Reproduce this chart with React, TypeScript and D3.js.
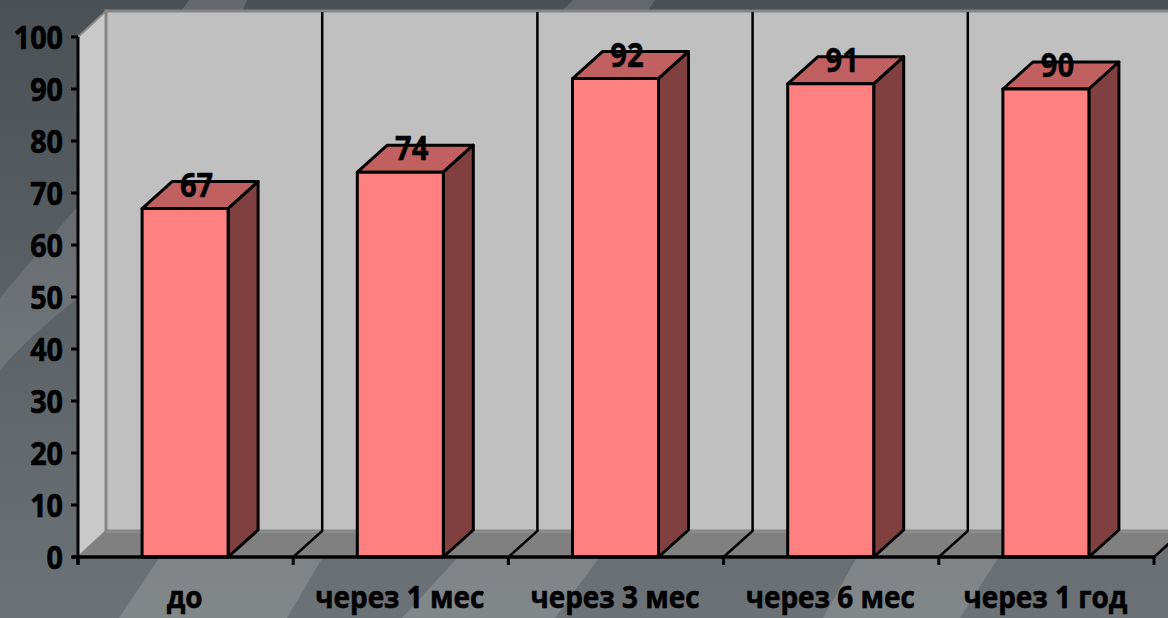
import React from "react";
import * as d3 from "d3";

const categories = ["до", "через 1 мес", "через 3 мес", "через 6 мес", "через 1 год"];
const values = [67, 74, 92, 91, 90];
const yTicks = [0, 10, 20, 30, 40, 50, 60, 70, 80, 90, 100];

const W = 1168;
const H = 618;
const FONT = "'Open Sans', 'Noto Sans', sans-serif";

// Plot frame and the oblique offset of the 3D box
const left = 78;
const right = 1154;
const floorY = 557;
const topY = 37;
const depthX = 28;
const depthY = -26;
const barDepthX = 30;
const barDepthY = -27;
const barWidth = 86;

// Slanted light ribbons of the slide backdrop
const ribbons = [
  { d: "M0,298 Q40,250 78,206 L78,298 Q30,335 0,370 Z", o: 0.11 },
  { d: "M161,555 L119,618 L287,618 L324,555 Z", o: 0.15 },
  { d: "M460,555 L402,618 L555,618 L601,555 Z", o: 0.15 },
  { d: "M858,555 L823,618 L960,618 L1000,555 Z", o: 0.15 },
  { d: "M189,0 L182,10 L243,10 L247,0 Z", o: 0.14 },
  { d: "M573,0 L563,10 L648,10 L655,0 Z", o: 0.14 },
];

const y = d3.scaleLinear().domain([0, 100]).range([floorY, topY]);
const x = d3.scaleBand<string>().domain(categories).range([left, right]).padding(0);

const path = (pts: [number, number][]) => d3.line()(pts) + "Z";

export default function App() {
  const step = x.step();
  const boundaries = d3.range(categories.length + 1).map((i) => left + i * step);
  return (
    <svg
      width={W}
      height={H}
      viewBox={`0 0 ${W} ${H}`}
      style={{ position: "absolute", left: 0, top: 0, display: "block" }}
    >
      <defs>
        <linearGradient id="backdrop" x1="0" y1="0" x2="0" y2="1">
          <stop offset="0" stopColor="#4b5055" />
          <stop offset="1" stopColor="#6d7276" />
        </linearGradient>
      </defs>
      <rect width={W} height={H} fill="url(#backdrop)" />
      {ribbons.map((r, i) => (
        <path key={i} d={r.d} fill="#ffffff" fillOpacity={r.o} />
      ))}

      {/* Side wall, back wall and floor */}
      <path
        d={path([
          [left, topY],
          [left + depthX, topY + depthY],
          [left + depthX, floorY + depthY],
          [left, floorY],
        ])}
        fill="#c9c9c9"
        stroke="#8a8a8a"
        strokeWidth={2}
      />
      <rect
        x={left + depthX}
        y={topY + depthY}
        width={W - left - depthX + 10}
        height={floorY - topY}
        fill="#c0c0c0"
        stroke="#858585"
        strokeWidth={3}
      />
      <path
        d={path([
          [left, floorY],
          [left + depthX, floorY + depthY],
          [W + 10, floorY + depthY],
          [right, floorY],
        ])}
        fill="#808080"
      />
      <path
        d={`M${W},${floorY + depthY + 1}H${left + depthX}`}
        stroke="#8c8c8c"
        strokeWidth={2}
        fill="none"
      />

      {/* Category dividers climbing the floor and back wall */}
      {boundaries.slice(1).map((b) => (
        <path
          key={b}
          d={`M${b},${floorY}L${b + depthX + 1},${floorY + depthY}V${topY + depthY + 1}`}
          fill="none"
          stroke="#000"
          strokeWidth={2.5}
        />
      ))}

      {/* Bars */}
      {categories.map((c, i) => {
        const x0 = (x(c) as number) + step / 2 - barWidth / 2 - 0.5;
        const x1 = x0 + barWidth;
        const yt = y(values[i]);
        return (
          <g key={c} stroke="#000" strokeWidth={3} strokeLinejoin="round">
            <path
              d={path([
                [x0, yt],
                [x0 + barDepthX, yt + barDepthY],
                [x1 + barDepthX, yt + barDepthY],
                [x1, yt],
              ])}
              fill="#c06060"
            />
            <path
              d={path([
                [x1, yt],
                [x1 + barDepthX, yt + barDepthY],
                [x1 + barDepthX, floorY + barDepthY],
                [x1, floorY],
              ])}
              fill="#804040"
            />
            <rect x={x0} y={yt} width={barWidth} height={floorY - yt} fill="#ff8080" />
          </g>
        );
      })}

      {/* Axes */}
      <path d={`M${left},${topY}V${floorY + 8}`} stroke="#000" strokeWidth={3} fill="none" />
      <path d={`M${left - 6},${floorY}H${right}`} stroke="#000" strokeWidth={3.5} fill="none" />
      {yTicks.map((t) => (
        <g key={t}>
          <path d={`M${left - 7},${y(t)}H${left}`} stroke="#000" strokeWidth={3} />
          <text
            transform={`translate(63,${y(t) + 12}) scale(0.87,1)`}
            textAnchor="end"
            fontFamily={FONT}
            fontWeight={700}
            fontSize={33}
            fill="#000"
            stroke="#000"
            strokeWidth={0.7}
          >
            {t}
          </text>
        </g>
      ))}
      {boundaries.map((b) => (
        <path key={b} d={`M${b},${floorY}V${floorY + 8}`} stroke="#000" strokeWidth={3} />
      ))}
      {categories.map((c) => (
        <text
          key={c}
          transform={`translate(${(x(c) as number) + step / 2 - 1},608) scale(0.93,1)`}
          textAnchor="middle"
          fontFamily={FONT}
          fontWeight={700}
          fontSize={30}
          fill="#000"
          stroke="#000"
          strokeWidth={0.6}
        >
          {c}
        </text>
      ))}

      {/* Value labels over the bar tops */}
      {categories.map((c, i) => (
        <text
          key={c}
          transform={`translate(${(x(c) as number) + step / 2 + 11},${y(values[i]) - 12}) scale(0.86,1)`}
          textAnchor="middle"
          fontFamily={FONT}
          fontWeight={700}
          fontSize={34}
          fill="#000"
          stroke="#000"
          strokeWidth={0.4}
        >
          {values[i]}
        </text>
      ))}
    </svg>
  );
}
